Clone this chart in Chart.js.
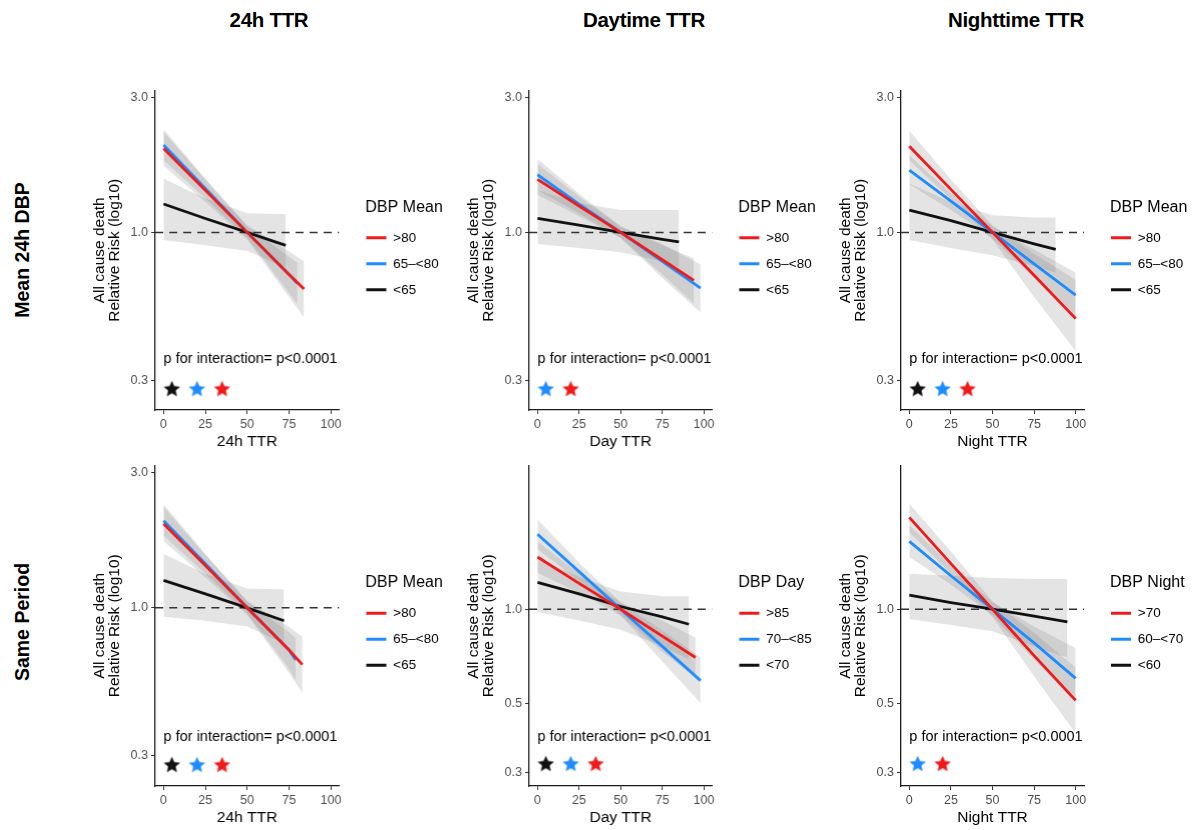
<!DOCTYPE html>
<html><head><meta charset="utf-8">
<script src="https://cdn.jsdelivr.net/npm/chart.js@4.4.1/dist/chart.umd.min.js"></script>
<style>
html,body{margin:0;padding:0;background:#fff;width:1194px;height:830px;overflow:hidden;font-family:"Liberation Sans",Arial,sans-serif;}
.panel{position:absolute;}
.coltitle{position:absolute;font-weight:bold;font-size:20.5px;transform:translate(-50%,-50%);white-space:nowrap;font-family:"Liberation Sans",Arial,sans-serif;color:#000;letter-spacing:-0.3px;}
.rowtitle{position:absolute;font-weight:bold;font-size:19.5px;transform:translate(-50%,-50%) rotate(-90deg);white-space:nowrap;color:#000;font-family:"Liberation Sans",Arial,sans-serif;}
</style></head><body>
<script>
// ---------------- DATA ----------------
const colTitles = ['24h TTR', 'Daytime TTR', 'Nighttime TTR'];
const rowTitles = ['Mean 24h DBP', 'Same Period'];
const xAxisTitles = ['24h TTR', 'Day TTR', 'Night TTR'];
const yAxisTitle = ['All cause death', 'Relative Risk (log10)'];
const pText = 'p for interaction= p<0.0001';
const xTickValues = [0, 25, 50, 75, 100];
const xRange = [-5, 105];
const yTicksWide = [0.3, 1.0, 3.0];
const yTicksNarrow = [0.3, 0.5, 1.0];
const yRangeWide = [0.235, 3.18];
const yRangeNarrow = [0.271, 2.89];
const legendTitles = ['DBP Mean', 'DBP Mean', 'DBP Mean', 'DBP Mean', 'DBP Day', 'DBP Night'];
const labelsMean = ['>80', '65\u2013<80', '<65'];
const labelsDay = ['>85', '70\u2013<85', '<70'];
const labelsNight = ['>70', '60\u2013<70', '<60'];
const starX = [5, 20, 35];
const starYWide = 0.28, starYNarrow = 0.32;
const pYWide = 0.356, pYNarrow = 0.39;
const p1Stars = ['black', 'blue', 'red'];
const p2Stars = ['blue', 'red'];
const p3Stars = ['black', 'blue', 'red'];
const p4Stars = ['black', 'blue', 'red'];
const p5Stars = ['black', 'blue', 'red'];
const p6Stars = ['blue', 'red'];

// each series: [TTR values], [fitted RR], [lower CI], [upper CI]
// Panel 1: Mean 24h DBP / 24h TTR
const p1Red   = [[0,25,50,75,84], [1.98,1.41,1.00,0.71,0.63], [1.72,1.28,0.944,0.59,0.50], [2.27,1.54,1.06,0.855,0.79]];
const p1Blue  = [[0,25,50,75,80], [2.04,1.43,1.00,0.71,0.66], [1.80,1.32,0.955,0.61,0.555], [2.32,1.55,1.05,0.82,0.78]];
const p1Black = [[0,25,50,73],    [1.26,1.12,1.00,0.90],      [0.94,0.90,0.86,0.75],        [1.55,1.32,1.17,1.16]];
// Panel 2: Mean 24h DBP / Day TTR
const p2Red   = [[0,25,50,75,94], [1.54,1.24,1.00,0.80,0.676], [1.36,1.14,0.955,0.71,0.56], [1.75,1.34,1.05,0.90,0.81]];
const p2Blue  = [[0,25,50,75,98], [1.60,1.26,1.00,0.79,0.635], [1.41,1.17,0.955,0.69,0.52], [1.82,1.37,1.05,0.91,0.77]];
const p2Black = [[0,25,50,75,85], [1.12,1.06,1.00,0.945,0.925], [0.91,0.88,0.85,0.79,0.75], [1.41,1.27,1.20,1.20,1.20]];
// Panel 3: Mean 24h DBP / Night TTR
const p3Red   = [[0,25,50,75,100], [2.02,1.42,1.00,0.705,0.495], [1.80,1.31,0.944,0.59,0.38], [2.29,1.54,1.06,0.84,0.68]];
const p3Blue  = [[0,25,50,75,100], [1.66,1.29,1.00,0.774,0.60],  [1.48,1.20,0.955,0.69,0.50], [1.87,1.38,1.05,0.87,0.72]];
const p3Black = [[0,25,50,75,88],  [1.20,1.10,1.00,0.91,0.87],   [0.94,0.88,0.83,0.76,0.72],  [1.49,1.28,1.15,1.13,1.13]];
// Panel 4: Same period / 24h TTR
const p4Red   = [[0,25,50,75,83], [1.98,1.41,1.00,0.71,0.63],  [1.72,1.28,0.944,0.59,0.50], [2.27,1.54,1.06,0.855,0.79]];
const p4Blue  = [[0,25,50,75,79], [2.03,1.43,1.00,0.71,0.655], [1.80,1.32,0.955,0.61,0.555], [2.32,1.55,1.05,0.82,0.78]];
const p4Black = [[0,25,50,72],    [1.25,1.12,1.00,0.90],       [0.93,0.90,0.86,0.75],        [1.55,1.32,1.17,1.16]];
// Panel 5: Same period / Day TTR
const p5Red   = [[0,25,50,75,95], [1.47,1.21,1.00,0.82,0.70],  [1.31,1.13,0.955,0.73,0.605], [1.65,1.30,1.05,0.92,0.81]];
const p5Blue  = [[0,25,50,75,98], [1.74,1.32,1.00,0.76,0.59],  [1.56,1.23,0.955,0.68,0.50],  [1.94,1.41,1.05,0.855,0.70]];
const p5Black = [[0,25,50,75,91], [1.22,1.12,1.02,0.945,0.895], [0.98,0.92,0.86,0.76,0.69], [1.45,1.27,1.14,1.10,1.10]];
// Panel 6: Same period / Night TTR
const p6Red   = [[0,25,50,75,100], [1.97,1.40,1.00,0.71,0.51], [1.77,1.30,0.944,0.61,0.40], [2.18,1.53,1.06,0.84,0.65]];
const p6Blue  = [[0,25,50,75,100], [1.65,1.28,1.00,0.78,0.60], [1.47,1.20,0.955,0.69,0.50], [1.86,1.38,1.05,0.88,0.75]];
const p6Black = [[0,25,50,75,95],  [1.11,1.05,1.00,0.95,0.91], [0.93,0.89,0.85,0.76,0.70],  [1.30,1.28,1.26,1.25,1.25]];

// ---------------- STYLE / LAYOUT ----------------
const COLORS = {red: '#F01A1A', blue: '#1E8CFF', black: '#111111'};
const BAND = 'rgba(120,120,120,0.20)';
const FONT = '"Liberation Sans", Arial, sans-serif';
const axisX = [155, 529, 901];          // pixel x of y-axis line per column
const chartW = [183.5, 182.5, 183];     // plot widths
const chartTop = [90, 465];
const chartH = [320, 321];
const YAXW = 63, XAXH = 41, PADTOP = 10, LEGW = 60;

Chart.defaults.font.family = FONT;
Chart.defaults.color = '#4d4d4d';

function starImage(color) {
  const s = 20, c = document.createElement('canvas');
  c.width = s; c.height = s;
  const g = c.getContext('2d');
  g.fillStyle = color; g.beginPath();
  for (let k = 0; k < 10; k++) {
    const r = k % 2 === 0 ? 8.6 : 4.0;
    const a = -Math.PI / 2 + k * Math.PI / 5;
    const px = s / 2 + r * Math.cos(a), py = s / 2 + 0.8 + r * Math.sin(a);
    if (k) g.lineTo(px, py); else g.moveTo(px, py);
  }
  g.closePath(); g.fill();
  return c;
}
const STAR = {red: starImage(COLORS.red), blue: starImage(COLORS.blue), black: starImage(COLORS.black)};

const pTextPlugin = {
  id: 'ptext',
  afterDatasetsDraw(chart, args, opts) {
    const {ctx, scales: {x, y}} = chart;
    ctx.save();
    ctx.font = '14.5px ' + FONT;
    ctx.fillStyle = '#000';
    ctx.textAlign = 'left';
    ctx.textBaseline = 'middle';
    ctx.fillText(opts.text, x.getPixelForValue(opts.x), y.getPixelForValue(opts.y));
    ctx.restore();
  }
};
const legendPlace = {
  id: 'legendPlace',
  afterLayout(chart) {
    const lg = chart.legend;
    if (!lg) return;
    const o = lg.options;
    const keyLeft = chart.chartArea.right + 27;
    const ctx = chart.ctx;
    ctx.save();
    ctx.font = o.title.font.size + 'px ' + FONT;
    const tw = ctx.measureText(o.title.text).width;
    ctx.restore();
    lg.left = keyLeft - o.labels.padding;
    lg.width = keyLeft - 1 + tw - lg.left;      // title right edge (title position: end)
    lg.right = Math.min(chart.width, lg.left + lg.width + 60);  // clip area wide enough for labels
    lg.top += 4; lg.bottom += 4;
  }
};

function pts(xs, ys) { return xs.map((v, j) => ({x: v, y: ys[j]})); }

function makePanel(row, col, series, labels, legTitle, yRange, yTicks, stars, starY, pY) {
  const left = axisX[col] - YAXW;
  const cw = chartW[col];
  const padR = Math.min(70, 1194 - (axisX[col] + cw + LEGW));
  const W = YAXW + cw + LEGW + padR;
  const H = PADTOP + chartH[row] + XAXH;
  const div = document.createElement('div');
  div.className = 'panel';
  div.style.left = left + 'px';
  div.style.top = (chartTop[row] - PADTOP) + 'px';
  div.style.width = W + 'px';
  div.style.height = H + 'px';
  const cv = document.createElement('canvas');
  div.appendChild(cv);
  document.body.appendChild(div);

  const colorKeys = ['red', 'blue', 'black'];
  const datasets = [];
  series.forEach((s, i) => {
    const c = COLORS[colorKeys[i]];
    datasets.push({label: labels[i], data: pts(s[0], s[1]), borderColor: c, borderWidth: 2.8,
      pointRadius: 0, fill: false, order: i});
  });
  series.forEach((s) => {
    datasets.push({label: 'ci-hi', data: pts(s[0], s[3]), borderColor: 'rgba(0,0,0,0)', borderWidth: 1,
      pointRadius: 0, fill: '+1', backgroundColor: BAND, order: 10});
    datasets.push({label: 'ci-lo', data: pts(s[0], s[2]), borderColor: 'rgba(0,0,0,0)', borderWidth: 1,
      pointRadius: 0, fill: false, order: 10});
  });
  datasets.push({label: 'ref', data: [{x: xRange[0], y: 1}, {x: xRange[1], y: 1}], borderColor: '#333',
    borderWidth: 1.5, borderDash: [8, 6], pointRadius: 0, fill: false, order: 5});
  datasets.push({label: 'stars', data: stars.map((k, j) => ({x: starX[j], y: starY})), showLine: false,
    pointStyle: stars.map(k => STAR[k]), pointRadius: 9, order: 0});

  new Chart(cv, {
    type: 'line',
    data: {datasets},
    options: {
      responsive: true, maintainAspectRatio: false, animation: false,
      layout: {padding: {top: PADTOP, right: padR, left: 0, bottom: 0}},
      events: [],
      scales: {
        x: {
          type: 'linear', min: xRange[0], max: xRange[1],
          afterBuildTicks: (sc) => { sc.ticks = xTickValues.map(v => ({value: v})); },
          afterFit: (sc) => { sc.height = XAXH; },
          ticks: {color: '#4d4d4d', font: {size: 12.5}, padding: 3, maxRotation: 0, autoSkip: false},
          grid: {drawOnChartArea: false, drawTicks: true, tickLength: 4, color: '#333', lineWidth: 1},
          border: {display: true, color: '#1a1a1a', width: 1.3},
          title: {display: true, text: xAxisTitles[col], color: '#000', font: {size: 15.5}, padding: 0}
        },
        y: {
          type: 'logarithmic', min: yRange[0], max: yRange[1],
          afterBuildTicks: (sc) => { sc.ticks = yTicks.map(v => ({value: v})); },
          afterFit: (sc) => { sc.width = YAXW; },
          ticks: {color: '#4d4d4d', font: {size: 12.5}, padding: 3, autoSkip: false,
            callback: (v) => Number(v).toFixed(1)},
          grid: {drawOnChartArea: false, drawTicks: true, tickLength: 4, color: '#333', lineWidth: 1},
          border: {display: true, color: '#1a1a1a', width: 1.3},
          title: {display: true, text: yAxisTitle, color: '#000', font: {size: 15.5, lineHeight: 0.97}, padding: 0}
        }
      },
      plugins: {
        tooltip: {enabled: false},
        ptext: {text: pText, x: 0, y: pY},
        legend: {
          display: true, position: 'right', align: 'center', fullSize: false, maxWidth: LEGW,
          title: {display: true, text: legTitle, position: 'end', color: '#000', font: {size: 16}},
          labels: {
            boxWidth: 20, boxHeight: 3, padding: 12.5, color: '#000', font: {size: 13.5},
            generateLabels: () => labels.map((t, i) => ({text: t, fillStyle: COLORS[colorKeys[i]],
              strokeStyle: COLORS[colorKeys[i]], lineWidth: 0, hidden: false, datasetIndex: i}))
          }
        }
      }
    },
    plugins: [pTextPlugin, legendPlace]
  });
}

// titles
const colCenters = [269, 644, 1016];
colTitles.forEach((t, i) => {
  const d = document.createElement('div'); d.className = 'coltitle'; d.textContent = t;
  d.style.left = colCenters[i] + 'px'; d.style.top = '20px'; document.body.appendChild(d);
});
const rowCenters = [250, 622];
rowTitles.forEach((t, i) => {
  const d = document.createElement('div'); d.className = 'rowtitle'; d.textContent = t;
  d.style.left = '22px'; d.style.top = rowCenters[i] + 'px'; document.body.appendChild(d);
});

makePanel(0, 0, [p1Red, p1Blue, p1Black], labelsMean, legendTitles[0], yRangeWide, yTicksWide, p1Stars, starYWide, pYWide);
makePanel(0, 1, [p2Red, p2Blue, p2Black], labelsMean, legendTitles[1], yRangeWide, yTicksWide, p2Stars, starYWide, pYWide);
makePanel(0, 2, [p3Red, p3Blue, p3Black], labelsMean, legendTitles[2], yRangeWide, yTicksWide, p3Stars, starYWide, pYWide);
makePanel(1, 0, [p4Red, p4Blue, p4Black], labelsMean, legendTitles[3], yRangeWide, yTicksWide, p4Stars, starYWide, 0.35);
makePanel(1, 1, [p5Red, p5Blue, p5Black], labelsDay, legendTitles[4], yRangeNarrow, yTicksNarrow, p5Stars, starYNarrow, pYNarrow);
makePanel(1, 2, [p6Red, p6Blue, p6Black], labelsNight, legendTitles[5], yRangeNarrow, yTicksNarrow, p6Stars, starYNarrow, pYNarrow);
</script>
</body></html>
